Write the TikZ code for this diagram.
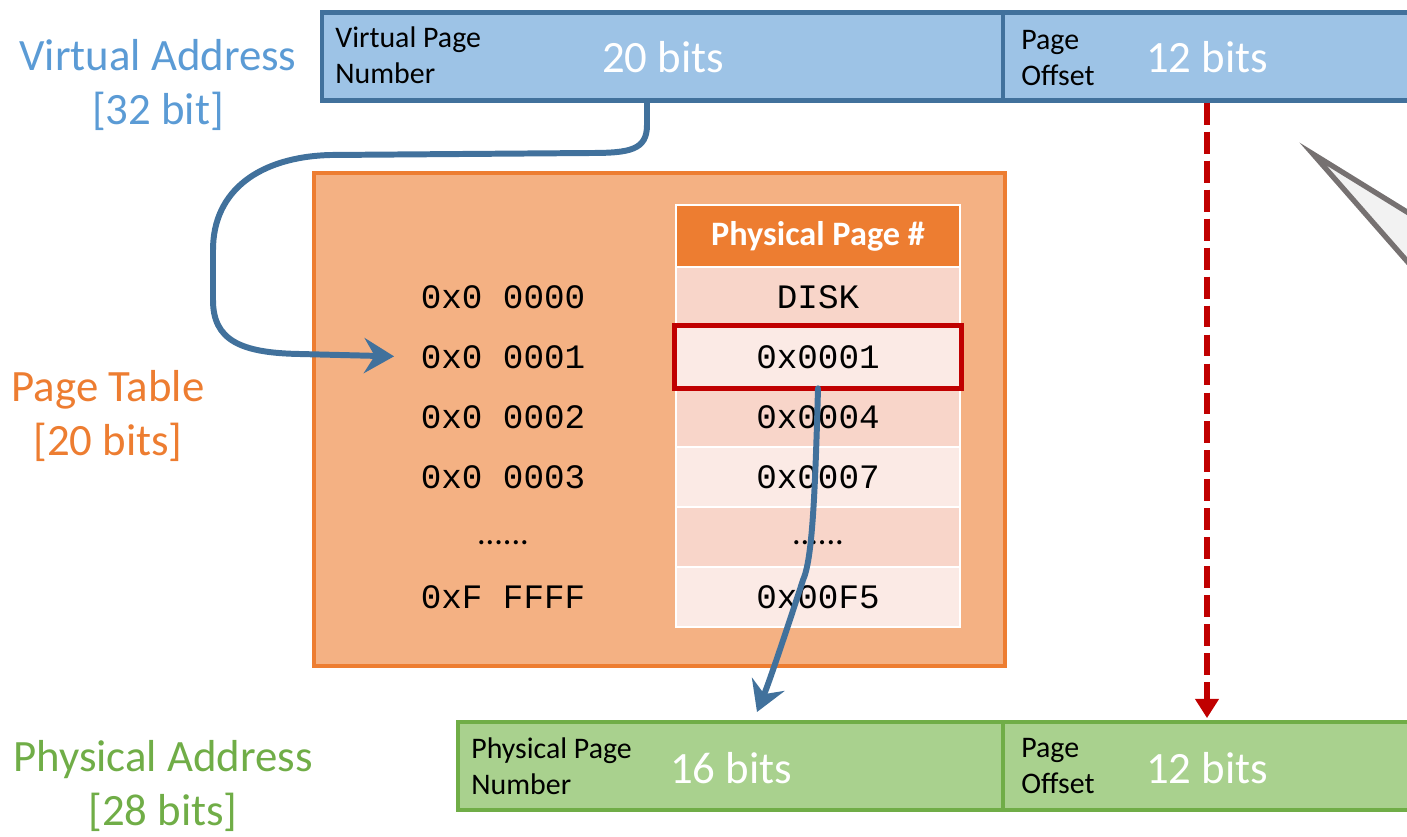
\documentclass[tikz,border=0pt]{standalone}
\usepackage{fontspec}
\setmainfont{Carlito}
\newfontfamily\codefont{Liberation Mono}
\usetikzlibrary{arrows.meta}

\definecolor{vfill}{HTML}{9DC3E6}
\definecolor{vline}{HTML}{41719C}
\definecolor{vtext}{HTML}{5B9BD5}
\definecolor{porange}{HTML}{ED7D31}
\definecolor{pfill}{HTML}{F4B183}
\definecolor{rowa}{HTML}{F8D5C9}
\definecolor{rowb}{HTML}{FBEAE5}
\definecolor{gfill}{HTML}{A9D18E}
\definecolor{gline}{HTML}{70AD47}
\definecolor{pred}{HTML}{C00000}
\definecolor{cgray}{HTML}{767171}
\definecolor{cfill}{HTML}{F2F2F2}

\begin{document}
\begin{tikzpicture}[x=0.02cm,y=-0.02cm,
  field/.style={draw,line width=2.4pt,minimum height=1.76cm,inner sep=0pt},
  small/.style={font=\fontsize{17}{20.5}\selectfont,align=left,inner sep=0pt,anchor=west},
  bits/.style={font=\fontsize{25.5}{30}\selectfont,text=white,inner sep=0pt},
  side/.style={font=\fontsize{25.5}{30.5}\selectfont,align=center,inner sep=0pt},
  cell/.style={draw=white,line width=1.5pt,minimum width=5.68cm,minimum height=1.2cm,inner sep=0pt,font=\codefont\fontsize{19.5}{22}\selectfont},
  key/.style={inner sep=0pt,font=\codefont\fontsize{19.5}{22}\selectfont},
  hand/.style={draw=vline,line width=3.4pt,line cap=round,line join=round,-{Stealth[length=17pt,width=20pt,inset=6pt]}}]
  \clip (0,0) rectangle (1407,836);

  % virtual address
  \node[field,fill=vfill,draw=vline,minimum width=13.62cm] (vpn) at (662.5,56.5) {};
  \node[field,fill=vfill,draw=vline,minimum width=8.16cm] (voff) at (1207,56.5) {};
  \node[small] (vpnt) at (335,55) {Virtual Page\\Number};
  \node[bits] (vpnb) at (663,57) {20 bits};
  \node[small] (vofft) at (1021,58) {Page\\Offset};
  \node[bits] (voffb) at (1207,57) {12 bits};
  \node[side,text=vtext] (va) at (158,85) {Virtual Address\\{}[32 bit]};

  % page table
  \node[draw=porange,fill=pfill,line width=2.2pt,minimum width=13.82cm,minimum height=9.86cm] (pt) at (659.5,419.5) {};
  \node[side,text=porange] (ptl) at (108,416) {Page Table\\{}[20 bits]};
  \node[cell,fill=porange,minimum height=1.24cm,font=\fontsize{19.5}{22}\selectfont\bfseries,text=white] (h) at (818,236) {Physical Page \#};
  \foreach \k/\v/\c [count=\i] in {0x0 0000/DISK/rowa,0x0 0001/0x0001/rowb,0x0 0002/0x0004/rowa,
      0x0 0003/0x0007/rowb,{\rmfamily\smash{\raisebox{-4.5pt}{......}}}/{\rmfamily\smash{\raisebox{-4.5pt}{......}}}/rowa,0xF FFFF/0x00F5/rowb}{
    \node[cell,fill=\c] (r\i) at (818,237+60*\i) {\v};
    \node[key] (k\i) at (503,237+60*\i) {\k};
  }
  \draw[pred,line width=2.8pt] (r2.north west) rectangle (r2.south east);

  % physical address
  \node[field,fill=gfill,draw=gline,minimum width=10.9cm] (ppn) at (730.5,766) {};
  \node[field,fill=gfill,draw=gline,minimum width=8.16cm] (poff) at (1207,766) {};
  \node[small] (ppnt) at (471,766) {Physical Page\\Number};
  \node[bits] (ppnb) at (731,768) {16 bits};
  \node[small] (pofft) at (1021,766) {Page\\Offset};
  \node[bits] (poffb) at (1207,768) {12 bits};
  \node[side,text=gline] (pa) at (163,786) {Physical Address\\{}[28 bits]};

  \coordinate (s1) at (647,103);
  \coordinate (t2) at (757,712);
  \draw[hand,shorten >=15pt] (s1) -- (647,125) .. controls (647,150) and (630,153) .. (590,153) -- (330,155)
    .. controls (260,157) and (213,190) .. (213,250) -- (213,300)
    .. controls (213,340) and (240,353) .. (300,354) -- (k2.west);
  \draw[hand] (r2.south) .. controls (815,500) and (812,560) .. (803,580)
    .. controls (790,620) and (770,680) .. (t2);
  \draw[pred,line width=3.5pt,dash pattern=on 12.5pt off 4pt,shorten >=1pt,-{Triangle[length=11pt,width=13pt]}] (voff.south) -- (poff.north);

  \draw[draw=cgray,fill=cfill,line width=3pt] (1313,154) -- (1420,220) -- (1420,276) -- cycle;
\end{tikzpicture}
\end{document}
